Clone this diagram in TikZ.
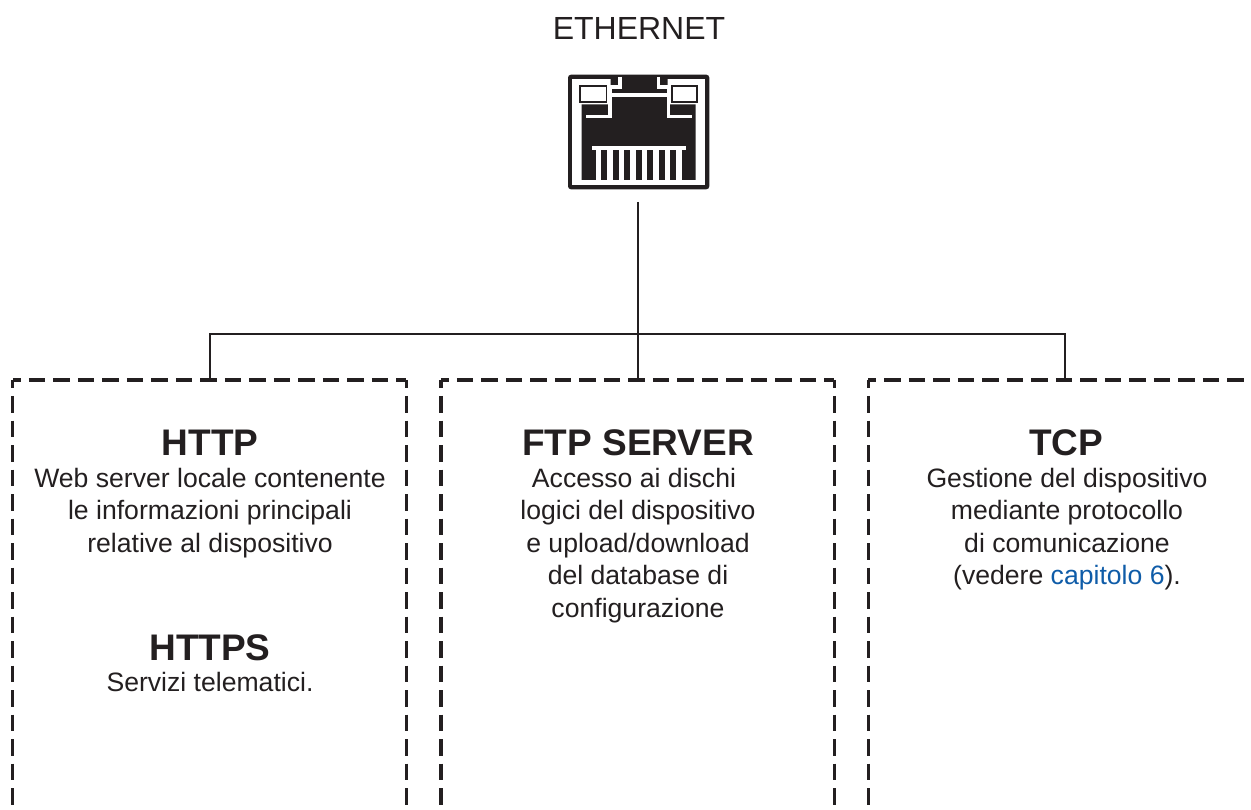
\documentclass[tikz,border=0pt]{standalone}
\usepackage{fontspec}
\setmainfont{Liberation Sans}
\usepackage{xcolor}
\definecolor{inkblack}{HTML}{231F20}
\definecolor{linkblue}{HTML}{0F5CA8}
\tikzset{
	wire/.style={draw=inkblack, line width=2pt},
	boxarea/.style={minimum width=393.5pt, minimum height=500pt, inner sep=0, outer sep=0, anchor=north},
	dashside/.style={draw=inkblack, line width=3.2pt, dash pattern=on 16.5pt off 8pt, dash phase=8.5pt},
	titletext/.style={font=\fontsize{37}{40}\selectfont\bfseries, text=inkblack, inner sep=0},
	bodytext/.style={font=\fontsize{26.6}{32.4}\selectfont, text=inkblack, align=center, inner sep=0, anchor=north}
}
\begin{document}
\begin{tikzpicture}[x=1pt, y=-1pt]
	\useasboundingbox (0,0) rectangle (1251,810);
	\clip (0,0) rectangle (1251,810);

	\node [font=\fontsize{32}{36}\selectfont, text=inkblack, inner sep=0] (ethernet) at (639,28) {ETHERNET};
	\node [minimum width=141pt, minimum height=114pt, inner sep=0, outer sep=0] (port) at (637.7,132) {};

	% connector icon
	\begin{scope}[shift={(555,65)}, x=0.3333pt, y=-0.3333pt]
		\fill [inkblack, rounded corners=3pt] (39,29) rectangle (463,373);
		\fill [white] (52,42) rectangle (450,360);
		\fill [inkblack] (80,118) -- (167,118) -- (167,42) -- (338,42) -- (338,118) -- (422,118) -- (422,345) -- (80,345) -- cycle;
		\fill [inkblack] (72,60) rectangle (157,113);
		\fill [inkblack] (347,60) rectangle (428,113);
		\fill [white] (77,65) rectangle (152,107);
		\fill [white] (353,65) rectangle (424,107);
		\draw [white, line width=3.2pt] (195,36) -- (195,66) -- (165,66) -- (165,155) -- (93,155);
		\draw [white, line width=3.2pt] (310,36) -- (310,66) -- (340,66) -- (340,155) -- (410,155);
		\draw [white, line width=3.2pt] (165,90) -- (340,90);
		\fill [white] (110,243) rectangle (392,255);
		\foreach \i in {0,...,7}
		{
			\fill [white] (123+34.4*\i,243) rectangle ++(16,105);
		}
	\end{scope}

	% dashed boxes, open at the bottom
	\node [boxarea] (http box) at (209.5,380) {};
	\node [boxarea] (ftp box) at (637.7,380) {};
	\node [boxarea] (tcp box) at (1065,380) {};
	\foreach \b in {http box, ftp box, tcp box}
	{
		\draw [dashside] (\b.north west) -- (\b.south west);
		\draw [dashside] (\b.north west) -- (\b.north east);
		\draw [dashside] (\b.north east) -- (\b.south east);
	}

	% connectors
	\coordinate (bus) at (637.7,334);
	\draw [wire, shorten <=13pt] (port.south) -- (ftp box.north);
	\draw [wire] (http box.north) |- (bus) -| (tcp box.north);

	\node [titletext] (http title) at (210,443) {HTTP};
	\node [bodytext] (http text) at (210,468) {Web server locale contenente\\le informazioni principali\\relative al dispositivo};
	\node [titletext] (https title) at (210,648) {HTTPS};
	\node [bodytext] (https text) at (210,672) {Servizi telematici.};

	\node [titletext] (ftp title) at (638,443) {FTP SERVER};
	\node [bodytext] (ftp text) at (638,468) {Accesso ai dischi\hspace*{8pt}\\logici del dispositivo\\e upload/download\\del database di\\configurazione};

	\node [titletext] (tcp title) at (1066,443) {TCP};
	\node [bodytext] (tcp text) at (1067,468) {Gestione del dispositivo\\mediante protocollo\\di comunicazione\\(vedere \textcolor{linkblue}{capitolo 6}).};
\end{tikzpicture}
\end{document}
